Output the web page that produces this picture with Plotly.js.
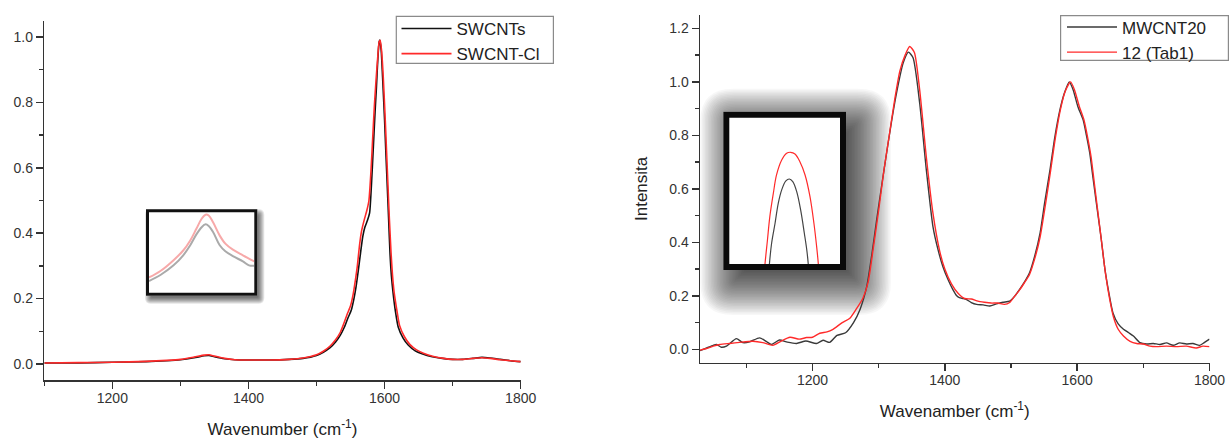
<!DOCTYPE html>
<html>
<head>
<meta charset="utf-8">
<script src="https://cdn.plot.ly/plotly-3.0.1.min.js"></script>
<style>html,body{margin:0;padding:0;background:#fff;}#chart{width:1230px;height:440px;}</style>
</head>
<body>
<div id="chart"></div>
<script>
// ---------- Left panel: SWCNTs vs SWCNT-Cl ----------
const swX = [1100,1150,1200,1250,1280,1300,1320,1335,1342,1350,1365,1380,1400,1430,1460,1480,1500,1510,1520,1528,1535,1541,1546,1551,1555,1558,1561,1564.5,1568,1571,1575,1578,1581,1583,1586,1588,1590,1592,1593,1595,1597,1600,1602,1604,1606,1608,1610,1612.6,1616,1620,1627,1635,1645,1655,1670,1685,1700,1715,1730,1743,1755,1770,1785,1800];
const swY = [0.003,0.003,0.005,0.007,0.010,0.013,0.019,0.025,0.026,0.022,0.016,0.013,0.012,0.012,0.014,0.017,0.026,0.036,0.050,0.067,0.088,0.113,0.140,0.164,0.200,0.235,0.280,0.337,0.390,0.418,0.440,0.462,0.560,0.643,0.770,0.846,0.930,0.985,0.991,0.960,0.880,0.745,0.640,0.541,0.440,0.337,0.270,0.215,0.160,0.113,0.080,0.057,0.040,0.031,0.022,0.017,0.014,0.014,0.017,0.020,0.018,0.014,0.010,0.007];
const swClX = [1100,1150,1200,1250,1280,1300,1320,1335,1342,1350,1365,1380,1400,1430,1460,1480,1500,1510,1520,1528,1535,1540,1545,1550,1554,1557,1560,1563,1566,1570,1574,1577,1580,1582,1585,1587.5,1590,1592,1593.5,1595.5,1598,1601,1603,1605,1607,1609.5,1611.5,1614,1618,1622,1629,1637,1647,1657,1672,1687,1700,1715,1730,1743,1755,1770,1785,1800];
const swClY = [0.003,0.004,0.005,0.008,0.011,0.014,0.021,0.027,0.028,0.024,0.017,0.013,0.012,0.012,0.014,0.018,0.028,0.039,0.055,0.074,0.097,0.123,0.152,0.178,0.215,0.255,0.300,0.360,0.405,0.440,0.470,0.500,0.590,0.670,0.790,0.870,0.940,0.985,0.990,0.960,0.880,0.745,0.645,0.545,0.445,0.340,0.275,0.220,0.165,0.118,0.084,0.060,0.043,0.033,0.023,0.017,0.014,0.014,0.017,0.019,0.017,0.013,0.010,0.007];
// Left inset (D band detail)
const insLX_cl = [1280,1293,1308,1319,1327,1334,1340,1344.5,1348,1353,1360.6,1367,1375.6,1387,1400];
const insLY_cl = [0.0138,0.0154,0.0181,0.0205,0.0230,0.0259,0.0284,0.0294,0.0292,0.0275,0.0242,0.0222,0.0207,0.0193,0.0178];
const insLX_sw = [1280,1293,1308,1319,1327,1334,1340,1344.5,1348,1353,1360.6,1367,1375.6,1387,1394,1400];
const insLY_sw = [0.0129,0.0144,0.0168,0.0193,0.0218,0.0245,0.0263,0.0270,0.0266,0.0251,0.0218,0.0203,0.0191,0.0178,0.0168,0.0167];

// ---------- Right panel: MWCNT20 vs 12 (Tab1) ----------
const mwX = [1030,1040,1050,1055,1062,1070,1085,1095,1105,1120,1130,1138,1150,1162,1176,1190,1206,1216,1226,1237,1250,1262,1272,1282,1290,1297,1305,1312,1320,1327,1337,1345,1352,1362,1372,1382,1390,1397,1405,1412,1418,1422,1428,1433,1440,1448,1458,1468,1478,1488,1498,1506,1513,1520,1528,1536,1544,1551,1559,1566,1574,1581,1588,1594,1601,1609,1614,1619,1624,1629,1636,1642,1648,1654,1662,1670,1678,1685,1695,1705,1715,1725,1735,1745,1755,1765,1775,1785,1792,1800];
const mwY = [-0.005,0.005,0.015,0.018,0.008,0.012,0.040,0.025,0.028,0.043,0.030,0.018,0.035,0.027,0.022,0.031,0.022,0.034,0.026,0.052,0.062,0.100,0.150,0.235,0.360,0.485,0.620,0.734,0.860,0.958,1.070,1.111,1.090,0.920,0.672,0.460,0.370,0.310,0.260,0.224,0.200,0.193,0.190,0.186,0.175,0.168,0.166,0.162,0.170,0.176,0.180,0.200,0.224,0.250,0.286,0.350,0.435,0.550,0.672,0.790,0.896,0.960,1.000,0.970,0.908,0.858,0.800,0.734,0.640,0.547,0.420,0.299,0.210,0.137,0.095,0.075,0.062,0.050,0.025,0.020,0.022,0.018,0.024,0.015,0.024,0.020,0.022,0.015,0.025,0.038];
const tabX = [1030,1040,1050,1060,1075,1090,1110,1125,1140,1152,1166,1180,1191,1200,1211,1222,1231,1245,1256,1266,1276,1284,1292,1300,1308,1316,1324,1332,1340,1347,1354,1362,1372,1382,1392,1400,1410,1420,1430,1440,1450,1460,1470,1480,1490,1498,1506,1513,1520,1528,1536,1544,1552,1560,1567,1575,1582,1590,1596,1603,1610,1616,1621,1626,1631,1637,1643,1649,1655,1662,1670,1680,1690,1700,1710,1720,1735,1750,1765,1780,1790,1800];
const tabY = [-0.003,0.003,0.012,0.018,0.022,0.026,0.030,0.025,0.015,0.030,0.045,0.038,0.044,0.045,0.060,0.065,0.075,0.100,0.115,0.150,0.190,0.250,0.380,0.520,0.670,0.800,0.930,1.040,1.100,1.132,1.110,0.970,0.720,0.510,0.370,0.300,0.245,0.210,0.190,0.188,0.180,0.176,0.173,0.173,0.168,0.175,0.200,0.222,0.248,0.280,0.340,0.420,0.540,0.670,0.790,0.900,0.965,1.000,0.970,0.910,0.860,0.790,0.720,0.620,0.520,0.400,0.280,0.190,0.120,0.075,0.050,0.030,0.022,0.020,0.012,0.010,0.012,0.010,0.012,0.005,0.012,0.010];
// Right inset (D band peak tops)
const insRX_tab = [1339.0,1339.5,1340.5,1341.5,1342.9,1344.2,1346.3,1348.3,1349.9,1351.7,1353.7,1355.8,1357.8,1359.4,1360.5,1361.2,1361.6];
const insRY_tab = [1.030,1.044,1.063,1.082,1.100,1.1145,1.1263,1.1316,1.1324,1.1311,1.125,1.1145,1.0974,1.0764,1.058,1.044,1.030];
const insRX_mw = [1340.8,1341.3,1342.2,1343.6,1344.9,1346.3,1348.0,1349.4,1350.8,1352.4,1354.0,1355.5,1356.5,1357.1,1357.5];
const insRY_mw = [1.030,1.044,1.0606,1.0764,1.0921,1.1027,1.1098,1.1113,1.1092,1.1013,1.0869,1.0685,1.0553,1.044,1.030];

const W = 1230, H = 440;
const FONT = 'Liberation Sans, Arial, sans-serif';
const px = v => v / W;
const py = v => 1 - v / H;

const traces = [
  {x: swX, y: swY, name: 'SWCNTs', type: 'scatter', mode: 'lines', line: {color: '#111111', width: 1.6, shape: 'spline', smoothing: 0.6}, xaxis: 'x', yaxis: 'y', legend: 'legend'},
  {x: swClX, y: swClY, name: 'SWCNT-Cl', type: 'scatter', mode: 'lines', line: {color: '#ff2a2a', width: 1.6, shape: 'spline', smoothing: 0.6}, xaxis: 'x', yaxis: 'y', legend: 'legend'},
  {x: insLX_sw, y: insLY_sw, type: 'scatter', mode: 'lines', showlegend: false, line: {color: '#aaaaaa', width: 2, shape: 'spline'}, xaxis: 'x3', yaxis: 'y3'},
  {x: insLX_cl, y: insLY_cl, type: 'scatter', mode: 'lines', showlegend: false, line: {color: '#f7a9a9', width: 2, shape: 'spline'}, xaxis: 'x3', yaxis: 'y3'},
  {x: mwX, y: mwY, name: 'MWCNT20', type: 'scatter', mode: 'lines', line: {color: '#3a3a3a', width: 1.4, shape: 'spline', smoothing: 0.6}, xaxis: 'x2', yaxis: 'y2', legend: 'legend2'},
  {x: tabX, y: tabY, name: '12 (Tab1)', type: 'scatter', mode: 'lines', line: {color: '#ff2a2a', width: 1.4, shape: 'spline', smoothing: 0.6}, xaxis: 'x2', yaxis: 'y2', legend: 'legend2'},
  {x: insRX_mw, y: insRY_mw, type: 'scatter', mode: 'lines', showlegend: false, line: {color: '#444444', width: 1.2, shape: 'spline'}, xaxis: 'x4', yaxis: 'y4'},
  {x: insRX_tab, y: insRY_tab, type: 'scatter', mode: 'lines', showlegend: false, line: {color: '#ff2a2a', width: 1.2, shape: 'spline'}, xaxis: 'x4', yaxis: 'y4'}
];

function mainAxis(extra) {
  return Object.assign({
    showline: true, linecolor: '#333', linewidth: 1.5, mirror: false,
    ticks: 'outside', ticklen: 7, tickwidth: 1.5, tickcolor: '#333',
    showgrid: false, zeroline: false,
    tickfont: {family: FONT, size: 14, color: '#333'}
  }, extra);
}
function insetAxis(extra) {
  return Object.assign({showline: false, showticklabels: false, ticks: '', showgrid: false, zeroline: false, fixedrange: true}, extra);
}
const minorX = {ticks: 'outside', ticklen: 4, tickwidth: 1.5, tickcolor: '#333', dtick: 100, showgrid: false};
const minorY = {ticks: 'outside', ticklen: 4, tickwidth: 1.5, tickcolor: '#333', dtick: 0.1, showgrid: false};

// Soft shadows (stacked translucent rounded rects), inset frames and legend frames
const shapes = [];
function roundRectPath(x0, y0, x1, y1, r) {
  const X = v => px(v).toFixed(5), Y = v => py(v).toFixed(5);
  return 'M' + X(x0 + r) + ',' + Y(y0) +
    ' L' + X(x1 - r) + ',' + Y(y0) + ' Q' + X(x1) + ',' + Y(y0) + ' ' + X(x1) + ',' + Y(y0 + r) +
    ' L' + X(x1) + ',' + Y(y1 - r) + ' Q' + X(x1) + ',' + Y(y1) + ' ' + X(x1 - r) + ',' + Y(y1) +
    ' L' + X(x0 + r) + ',' + Y(y1) + ' Q' + X(x0) + ',' + Y(y1) + ' ' + X(x0) + ',' + Y(y1 - r) +
    ' L' + X(x0) + ',' + Y(y0 + r) + ' Q' + X(x0) + ',' + Y(y0) + ' ' + X(x0 + r) + ',' + Y(y0) + ' Z';
}
function addShadow(x0, y0, x1, y1, dx, dy, eFrom, eTo, step, op) {
  for (let e = eFrom; e <= eTo + 1e-9; e += step) {
    const r = Math.max(1.5, e * 0.9 + 2);
    shapes.push({type: 'path', xref: 'paper', yref: 'paper', layer: 'below',
      path: roundRectPath(x0 + dx - e, y0 + dy - e, x1 + dx + e, y1 + dy + e, r),
      fillcolor: 'rgba(0,0,0,' + op + ')', line: {width: 0}});
  }
}
function addFrame(x0, y0, x1, y1, lw, col, fill, layer) {
  const h = lw / 2;
  if (fill) {
    shapes.push({type: 'rect', xref: 'paper', yref: 'paper', layer: 'below',
      x0: px(x0), x1: px(x1), y0: py(y1), y1: py(y0), fillcolor: '#ffffff', line: {width: 0}});
  }
  shapes.push({type: 'rect', xref: 'paper', yref: 'paper', layer: layer || 'above',
    x0: px(x0 + h), x1: px(x1 - h), y0: py(y1 - h), y1: py(y0 + h),
    fillcolor: 'rgba(0,0,0,0)', line: {width: lw, color: col}});
}
addShadow(146, 209.3, 257.3, 295.7, 3, 4, -2, 4, 1, 0.10);
addFrame(146, 209.3, 257.3, 295.7, 3, '#111111', true);
addShadow(723.3, 111.7, 846, 270, 11, 11, -14, 35, 1.5, 0.03);
addFrame(723.3, 111.7, 846, 270, 6, '#0a0a0a', true);
// legend frames
addFrame(395.7, 15.7, 554, 64, 1.2, '#8a8a8a', true, 'below');
addFrame(1060, 15, 1229, 61, 1.2, '#8a8a8a', true, 'below');

const layout = {
  width: W, height: H,
  margin: {l: 0, r: 0, t: 0, b: 0},
  paper_bgcolor: '#ffffff', plot_bgcolor: 'rgba(0,0,0,0)',
  font: {family: FONT, color: '#333'},
  showlegend: true,
  xaxis: mainAxis({domain: [px(44.3), px(520.7)], range: [1100, 1800], anchor: 'y', dtick: 200, tick0: 1200, minor: minorX,
    ticklabelstandoff: -3,
    title: {text: 'Wavenumber (cm<sup>-1</sup>)', font: {family: FONT, size: 17, color: '#222'}, standoff: 18}}),
  yaxis: mainAxis({domain: [py(380.3), py(20.7)], range: [-0.05, 1.05], anchor: 'x', dtick: 0.2, tick0: 0, tickformat: '.1f', minor: minorY}),
  xaxis2: mainAxis({domain: [px(700), px(1209.5)], range: [1030, 1800], anchor: 'y2', dtick: 200, tick0: 1200, minor: minorX,
    ticklabelstandoff: -3,
    title: {text: 'Wavenamber (cm<sup>-1</sup>)', font: {family: FONT, size: 17, color: '#222'}, standoff: 18}}),
  yaxis2: mainAxis({domain: [py(362.7), py(15)], range: [-0.05, 1.25], anchor: 'x2', dtick: 0.2, tick0: 0, tickformat: '.1f', minor: minorY,
    title: {text: 'Intensita', font: {family: FONT, size: 17, color: '#222'}, standoff: 17}}),
  xaxis3: insetAxis({domain: [px(149), px(254.3)], range: [1280, 1400], anchor: 'y3'}),
  yaxis3: insetAxis({domain: [py(292.7), py(212.3)], range: [0.010, 0.030], anchor: 'x3'}),
  xaxis4: insetAxis({domain: [px(729.3), px(840)], range: [1325, 1370], anchor: 'y4'}),
  yaxis4: insetAxis({domain: [py(264.3), py(117.3)], range: [1.044, 1.16], anchor: 'x4'}),
  legend: {x: px(396.5), y: py(11), xanchor: 'left', yanchor: 'top', bgcolor: 'rgba(255,255,255,0)',
    borderwidth: 0, font: {family: FONT, size: 17, color: '#222'}, itemwidth: 50, tracegroupgap: 0},
  legend2: {x: px(1062), y: py(9.5), xanchor: 'left', yanchor: 'top', bgcolor: 'rgba(255,255,255,0)',
    borderwidth: 0, font: {family: FONT, size: 17, color: '#222'}, itemwidth: 50, tracegroupgap: 0},
  shapes: shapes
};

Plotly.newPlot('chart', traces, layout, {staticPlot: true, displayModeBar: false});
</script>
</body>
</html>
